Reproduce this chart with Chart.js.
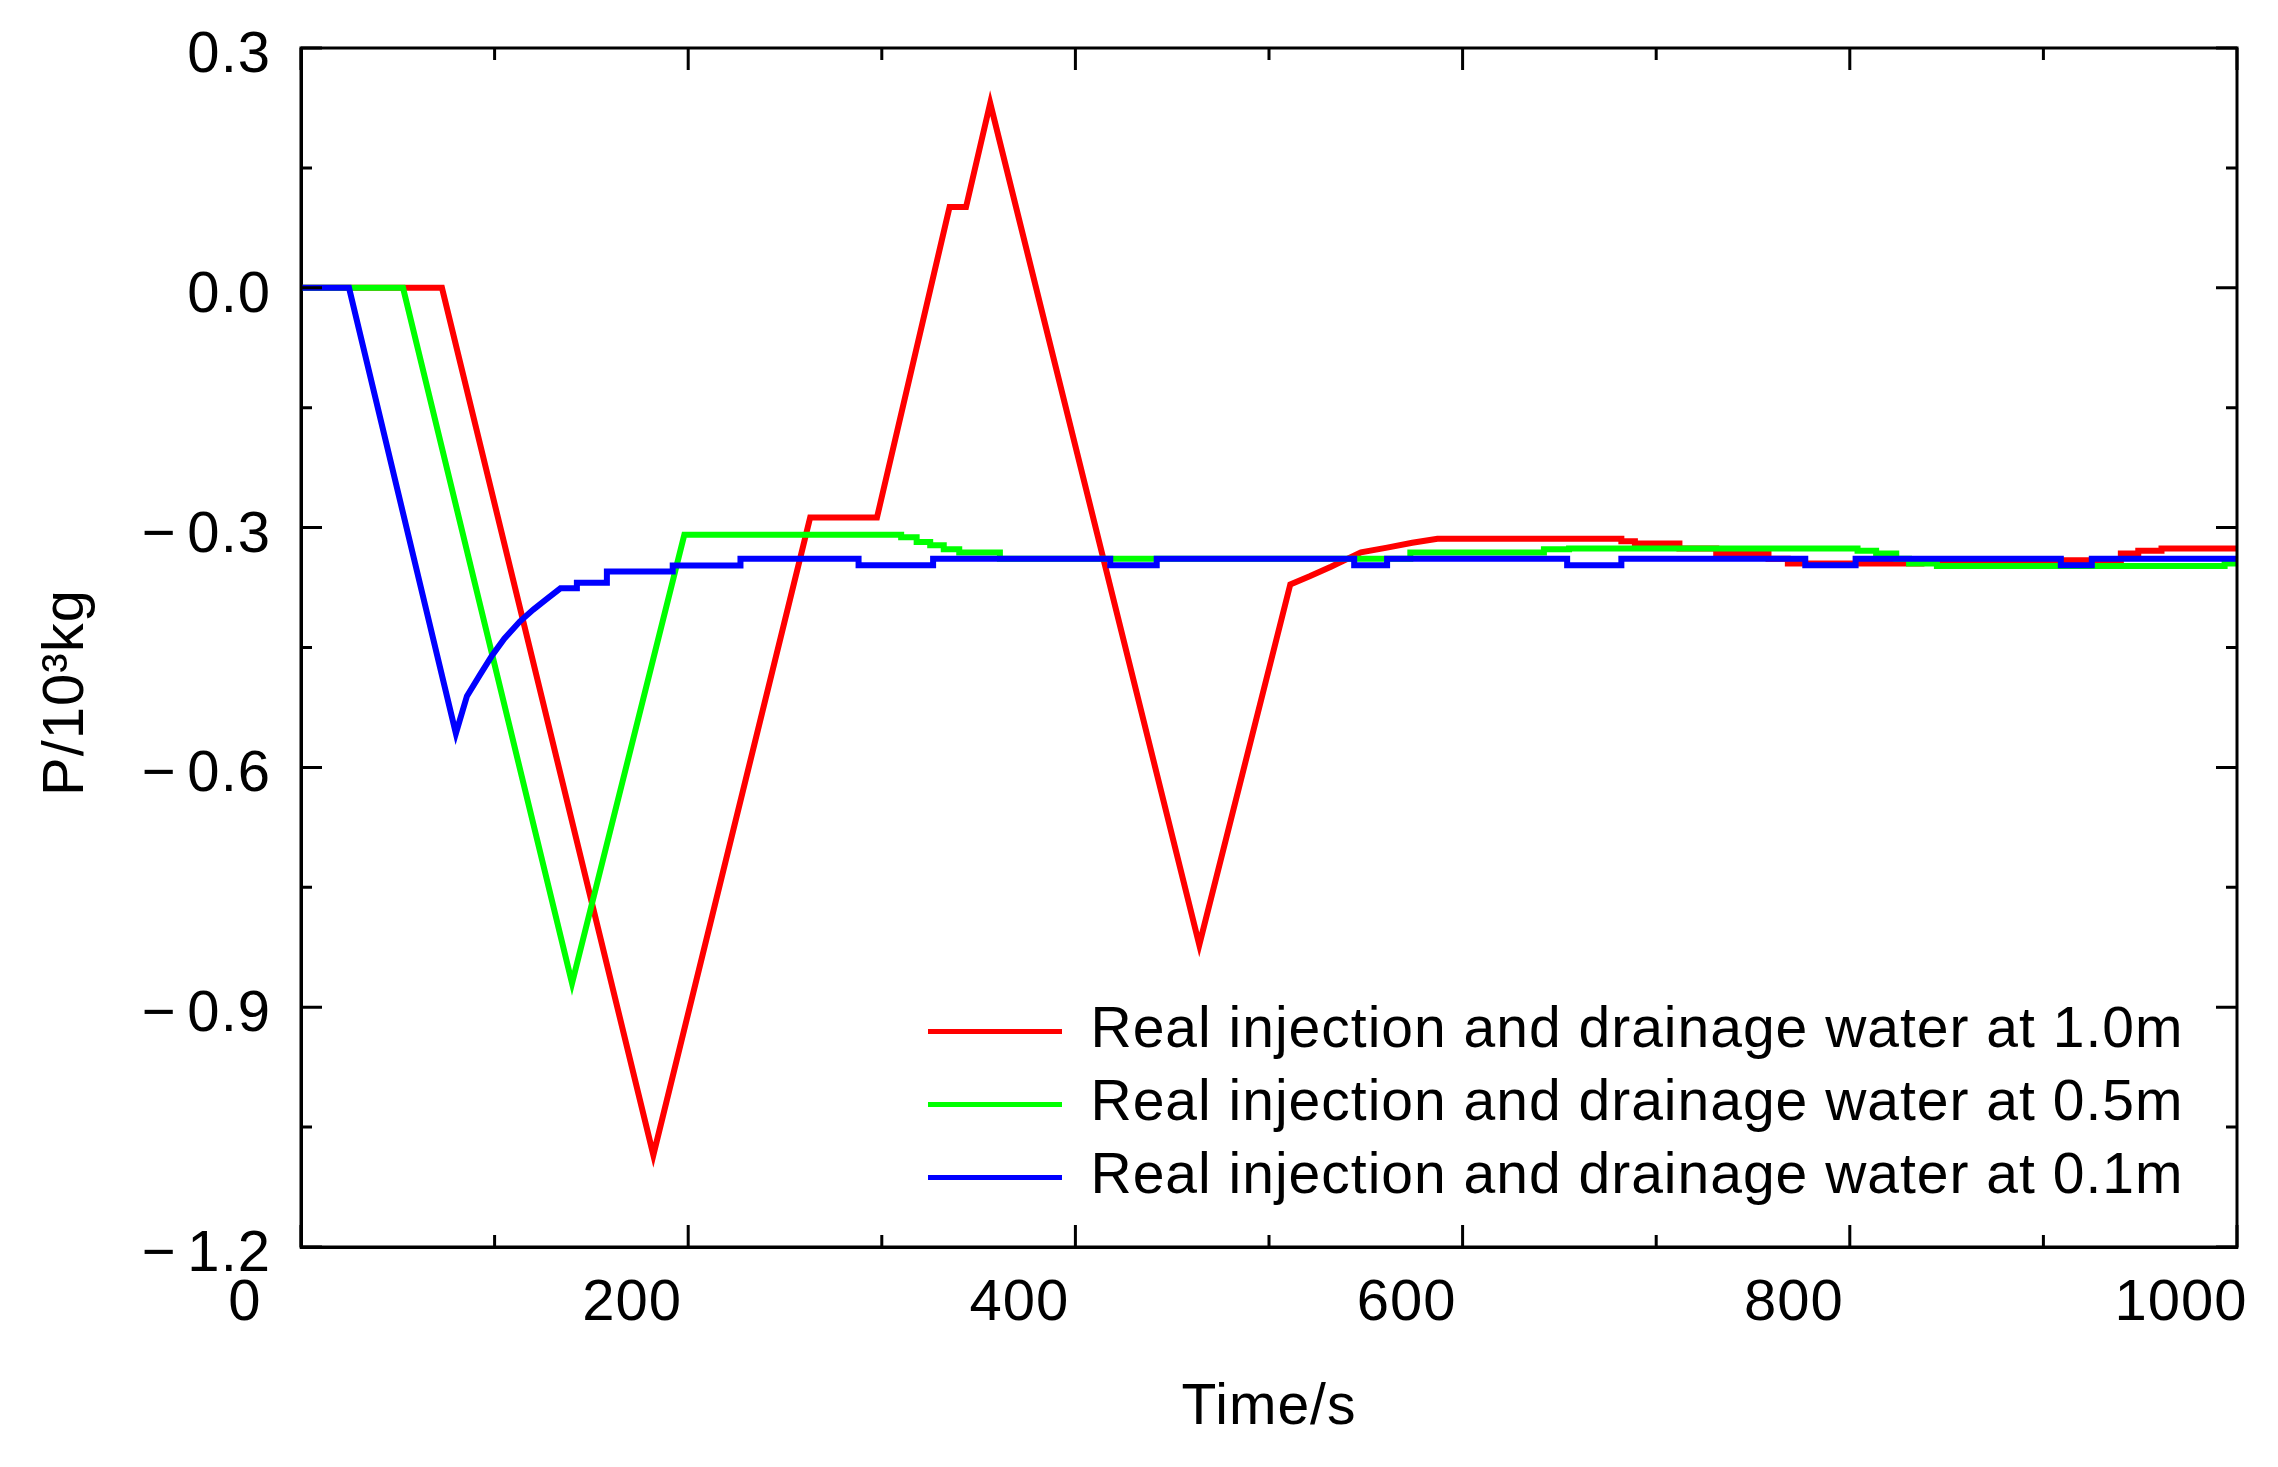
<!DOCTYPE html>
<html>
<head>
<meta charset="utf-8">
<script src="https://cdn.jsdelivr.net/npm/chart.js@4.4.0/dist/chart.umd.min.js"></script>
<style>
html,body{margin:0;padding:0;background:#fff;}
#wrap{width:2278px;height:1467px;}
</style>
</head>
<body>
<div id="wrap"><canvas id="c" width="2278" height="1467"></canvas></div>
<script>
// ---- data (time in s, P in 10^3 kg) ----
const seriesLabels = [
  'Real injection and drainage water at 1.0m',
  'Real injection and drainage water at 0.5m',
  'Real injection and drainage water at 0.1m'
];
const seriesColors = ['#ff0000', '#00ff00', '#0000ff'];

const redTime = [0, 72.8, 182, 263, 297.5, 335, 343.5, 356, 464, 511, 521, 532, 547.5, 561, 574, 587,
  682, 682, 689, 689, 712, 712, 731, 731, 758, 758, 768, 768, 837, 837, 940, 940, 949, 949, 961, 961, 1000];
const redP = [0, 0, -1.085, -0.2875, -0.2875, 0.101, 0.101, 0.231, -0.822, -0.371, -0.361, -0.349, -0.331, -0.325, -0.319, -0.314,
  -0.314, -0.317, -0.317, -0.320, -0.320, -0.326, -0.326, -0.3325, -0.3325, -0.339, -0.339, -0.345, -0.345, -0.341, -0.341, -0.3325, -0.3325, -0.329, -0.329, -0.326, -0.326];

const greenTime = [0, 52.7, 140, 198, 310, 310, 318, 318, 325, 325, 332, 332, 340, 340, 361, 361, 573, 573, 642, 642, 655, 655,
  804, 804, 813.6, 813.6, 824, 824, 830.6, 830.6, 845, 845, 993.6, 993.6, 1000];
const greenP = [0, 0, -0.87, -0.309, -0.309, -0.312, -0.312, -0.318, -0.318, -0.322, -0.322, -0.327, -0.327, -0.331, -0.331, -0.339, -0.339, -0.331, -0.331, -0.327, -0.327, -0.326,
  -0.326, -0.329, -0.329, -0.3325, -0.3325, -0.339, -0.339, -0.345, -0.345, -0.348, -0.348, -0.345, -0.345];

const blueTime = [0, 24.8, 80, 85.7, 92.5, 98.7, 105, 113, 120, 126.5, 134, 142.5, 142.5, 158, 158, 192, 192, 227, 227,
  288, 288, 326.5, 326.5, 418, 418, 442, 442, 544, 544, 561, 561, 654, 654, 682, 682, 777, 777, 803, 803, 909, 909, 925, 925, 1000];
const blueP = [0, 0, -0.5575, -0.511, -0.484, -0.46, -0.439, -0.4175, -0.4025, -0.39, -0.376, -0.376, -0.369, -0.369, -0.355, -0.355, -0.3475, -0.3475, -0.339,
  -0.339, -0.347, -0.347, -0.339, -0.339, -0.347, -0.347, -0.339, -0.339, -0.347, -0.347, -0.339, -0.339, -0.347, -0.347, -0.339, -0.339, -0.347, -0.347, -0.339, -0.339, -0.347, -0.347, -0.339, -0.339];

// axes
const xMin = 0, xMax = 1000, xMajor = 200, xMinor = 100;
const yMin = -1.2, yMax = 0.3, yMajor = 0.3, yMinor = 0.15;
const xTitle = 'Time/s';
const yTitle = 'P/10\u00B3kg';

const toPoints = (ts, vs) => ts.map((t, i) => ({x: t, y: vs[i]}));

const FONT = '"Liberation Sans", Arial, sans-serif';

const spacing = {
  id: 'spacing',
  beforeUpdate(chart) { chart.ctx.letterSpacing = '1px'; },
  beforeLayout(chart) { chart.ctx.letterSpacing = '1px'; },
  beforeDraw(chart) { chart.ctx.letterSpacing = '1px'; }
};

const frameTicks = {
  id: 'frameTicks',
  afterDraw(chart) {
    const {ctx, chartArea: a, scales: {x, y}} = chart;
    ctx.save();
    ctx.strokeStyle = '#000';
    ctx.lineWidth = 3;
    ctx.strokeRect(a.left, a.top, a.right - a.left, a.bottom - a.top);
    ctx.beginPath();
    const nx = Math.round((xMax - xMin) / xMinor);
    for (let i = 0; i <= nx; i++) {
      const v = xMin + i * xMinor;
      const px = x.getPixelForValue(v);
      const len = (i % Math.round(xMajor / xMinor) === 0) ? 22 : 12;
      ctx.moveTo(px, a.bottom); ctx.lineTo(px, a.bottom - len);
      ctx.moveTo(px, a.top); ctx.lineTo(px, a.top + len);
    }
    const ny = Math.round((yMax - yMin) / yMinor);
    for (let i = 0; i <= ny; i++) {
      const v = yMin + i * yMinor;
      const py = y.getPixelForValue(v);
      const len = (i % Math.round(yMajor / yMinor) === 0) ? 21 : 11;
      ctx.moveTo(a.left, py); ctx.lineTo(a.left + len, py);
      ctx.moveTo(a.right, py); ctx.lineTo(a.right - len, py);
    }
    ctx.stroke();
    ctx.restore();
  },
  afterLayout(chart) {
    const lg = chart.legend;
    if (!lg) return;
    const a = chart.chartArea;
    const w = lg.width, h = lg.height;
    lg.left = a.left + 611;
    lg.top = a.top + 939;
    lg.right = lg.left + w;
    lg.bottom = lg.top + h;
  }
};

new Chart(document.getElementById('c'), {
  type: 'line',
  data: {
    datasets: [
      {label: seriesLabels[0], data: toPoints(redTime, redP), borderColor: seriesColors[0], backgroundColor: seriesColors[0], order: 2},
      {label: seriesLabels[1], data: toPoints(greenTime, greenP), borderColor: seriesColors[1], backgroundColor: seriesColors[1], order: 1},
      {label: seriesLabels[2], data: toPoints(blueTime, blueP), borderColor: seriesColors[2], backgroundColor: seriesColors[2], order: 0}
    ].map(d => Object.assign(d, {borderWidth: 6, pointRadius: 0, pointBorderWidth: 5, tension: 0, fill: false, borderJoinStyle: 'miter'}))
  },
  options: {
    responsive: false,
    devicePixelRatio: 1,
    animation: false,
    events: [],
    layout: {padding: {left: 0, right: 41, top: 48, bottom: 0}},
    plugins: {
      tooltip: {enabled: false},
      legend: {
        display: true,
        position: 'chartArea',
        align: 'start',
        labels: {
          usePointStyle: true,
          pointStyle: 'line',
          pointStyleWidth: 134,
          color: '#000',
          padding: 16,
          font: {family: FONT, size: 57},
          sort: (a, b) => a.datasetIndex - b.datasetIndex
        }
      }
    },
    scales: {
      x: {
        type: 'linear',
        min: xMin, max: xMax,
        grid: {display: false, drawTicks: false},
        border: {display: true, color: '#000', width: 3},
        ticks: {
          stepSize: xMajor,
          color: '#000',
          font: {family: FONT, size: 58},
          padding: 22,
          labelOffset: -56,
          maxRotation: 0,
          autoSkip: false,
          callback: v => String(v)
        },
        title: {display: true, text: xTitle, color: '#000', font: {family: FONT, size: 57}, padding: {top: 0, bottom: 25}},
        afterFit: s => { s.height = 220; s.paddingLeft = 0; s.paddingRight = 0; }
      },
      y: {
        type: 'linear',
        min: yMin, max: yMax,
        grid: {display: false, drawTicks: false},
        border: {display: true, color: '#000', width: 3},
        ticks: {
          stepSize: yMajor,
          color: '#000',
          font: {family: FONT, size: 58},
          padding: 30,
          labelOffset: 8,
          autoSkip: false,
          callback: v => {
            const r = Math.round(v * 10) / 10;
            if (Math.abs(r) < 1e-9) return '0.0';
            return (r < 0 ? '\u2212\u2006' : '') + Math.abs(r).toFixed(1);
          }
        },
        title: {display: true, text: yTitle + '\u2002\u2002\u2002', color: '#000', font: {family: FONT, size: 58}, padding: {top: 32, bottom: 0}},
        afterFit: s => { s.width = 301; s.paddingTop = 0; s.paddingBottom = 0; }
      }
    }
  },
  plugins: [spacing, frameTicks]
});
</script>
</body>
</html>
